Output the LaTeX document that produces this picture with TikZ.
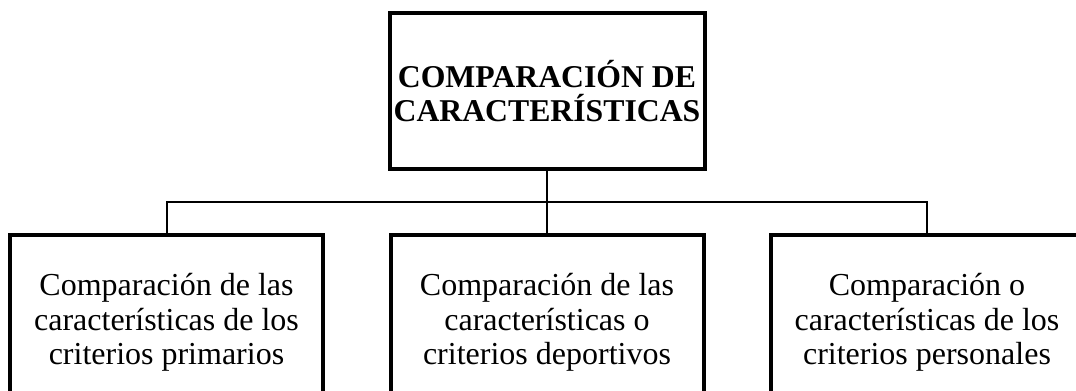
\documentclass[tikz,border=0pt]{standalone}
\usepackage{fontspec}
\setmainfont{Liberation Serif}

\tikzset{every picture/.style={line width=0.75pt}}
\tikzset{
	titlebox/.style={draw, line width=3pt, minimum width=236.25pt, minimum height=117pt, inner sep=0pt, align=center, font=\fontsize{23.8}{25}\selectfont\bfseries},
	itembox/.style={draw, line width=3pt, minimum width=234.75pt, minimum height=131.25pt, inner sep=0pt, align=center, font=\fontsize{24}{26}\selectfont},
	link/.style={line width=1.5pt}
}

\begin{document}
\begin{tikzpicture}[x=0.75pt,y=0.75pt,yscale=-1,xscale=1]
	%set diagram size to 1076 x 390, boxes run off the bottom and right edge
	\clip (0,0) rectangle (1076,390);

	% Title box
	\node[titlebox] (title) at (547,91) {COMPARACIÓN DE\\CARACTERÍSTICAS};

	% Item boxes
	\node[itembox] (left) at (166.5,322.5) {Comparación de las\\características de los\\criterios primarios};
	\node[itembox] (mid) at (547,322.5) {Comparación de las\\características o\\criterios deportivos};
	\node[itembox] (right) at (927,322.5) {Comparación o\\características de los\\criterios personales};

	% Connectors
	\coordinate (bus) at (547,202);
	\draw[link] (title.south) -- (mid.north);
	\draw[link] (left.north) -- (left.north |- bus) -- (right.north |- bus) -- (right.north);

\end{tikzpicture}
\end{document}
